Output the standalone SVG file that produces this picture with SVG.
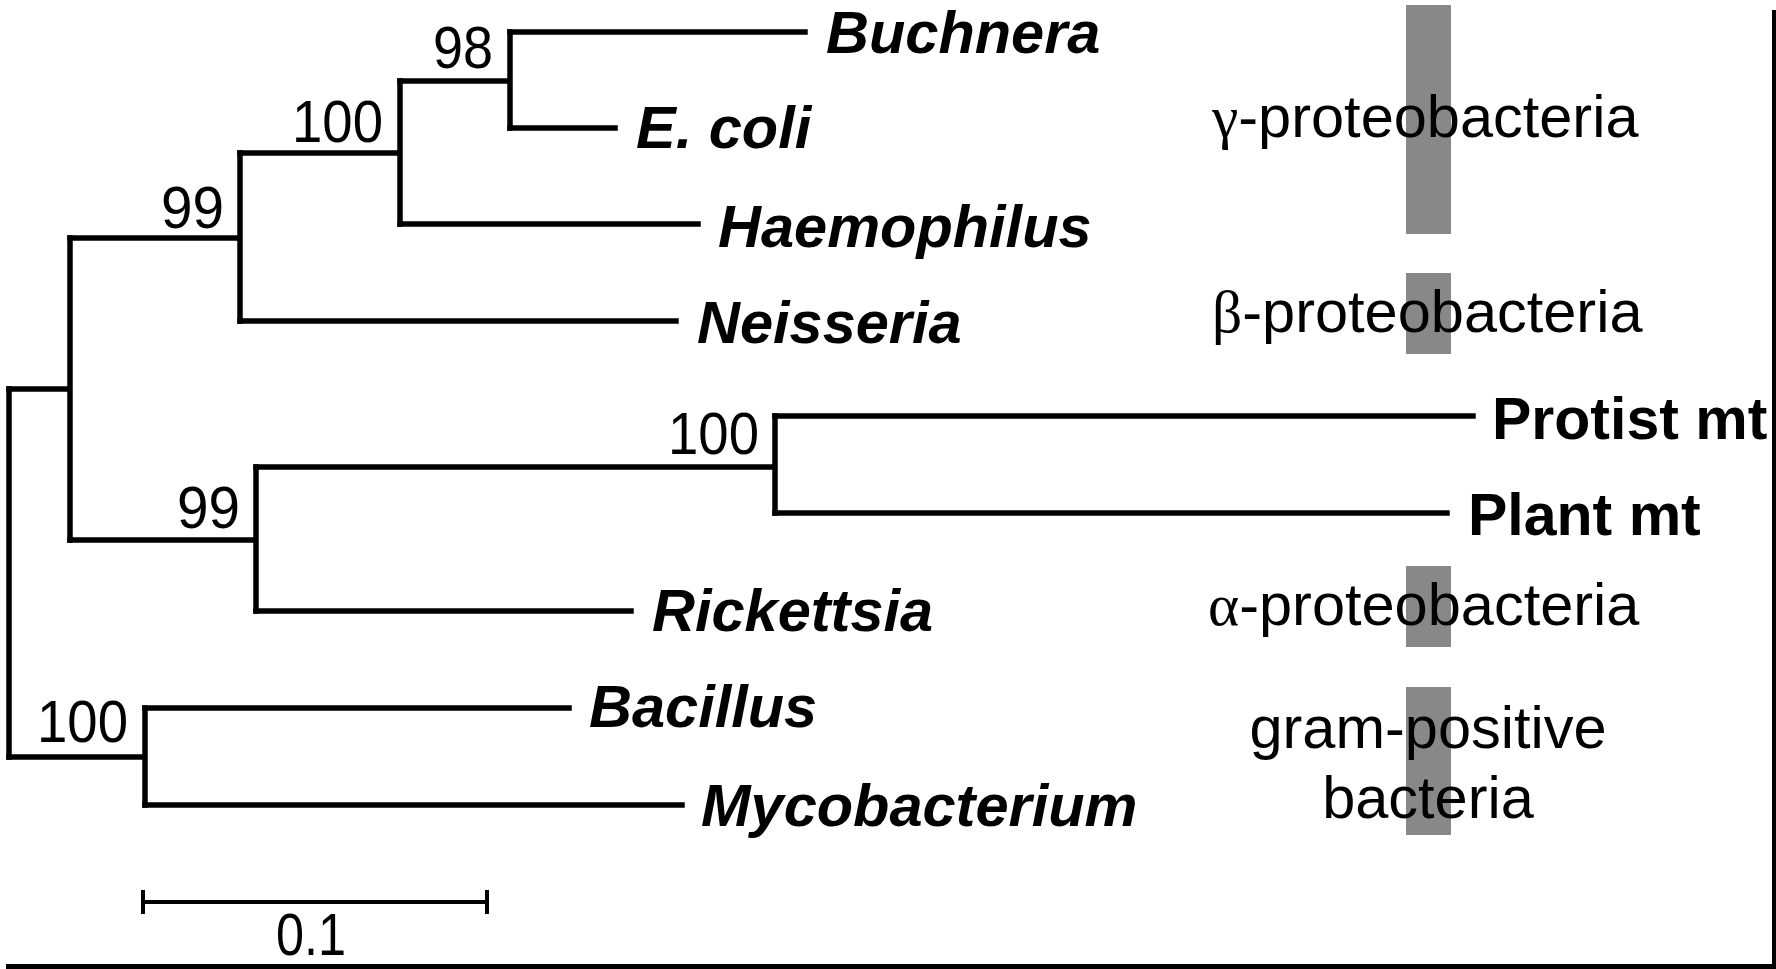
<svg xmlns="http://www.w3.org/2000/svg" width="1776" height="969" viewBox="0 0 1776 969">
<style>
.br{fill:none;stroke:#000;stroke-width:5.5;stroke-linecap:square}
.sb{fill:none;stroke:#000;stroke-width:4}
.leaf{font-family:"Liberation Sans",Arial,sans-serif;font-size:59.5px;font-weight:bold;font-style:italic;fill:#000}
.mt{font-family:"Liberation Sans",Arial,sans-serif;font-size:59px;font-weight:bold;fill:#000}
.num{font-family:"Liberation Sans",Arial,sans-serif;font-size:59px;fill:#000}
.grp{font-family:"Liberation Sans",Arial,sans-serif;font-size:59.5px;fill:#000}
.gk{font-family:"Liberation Serif","Times New Roman",serif}
.bar{fill:#888888}
</style>
<rect width="1776" height="969" fill="#fff"/>
<g id="bars">
<rect class="bar" x="1406" y="5" width="45" height="229"/>
<rect class="bar" x="1406" y="273" width="45" height="81"/>
<rect class="bar" x="1406" y="566" width="45" height="81"/>
<rect class="bar" x="1406" y="687" width="45" height="148"/>
</g>
<g id="connectors">
<path class="br" d="M9,389 V757"/>
<path class="br" d="M9,389 H70 M70,238 V540"/>
<path class="br" d="M70,238 H240 M240,153 V321"/>
<path class="br" d="M240,153 H400 M400,81 V224"/>
<path class="br" d="M400,81 H510 M510,32 V128"/>
<path class="br" d="M510,32 H805"/>
<path class="br" d="M510,128 H615"/>
<path class="br" d="M400,224 H698"/>
<path class="br" d="M240,321 H676"/>
<path class="br" d="M70,540 H256 M256,467 V611"/>
<path class="br" d="M256,467 H775 M775,416 V513"/>
<path class="br" d="M775,416 H1473"/>
<path class="br" d="M775,513 H1447"/>
<path class="br" d="M256,611 H631"/>
<path class="br" d="M9,757 H145 M145,708 V805"/>
<path class="br" d="M145,708 H569"/>
<path class="br" d="M145,805 H682"/>
</g>
<g id="support">
<text class="num" x="433" y="68" textLength="60" lengthAdjust="spacingAndGlyphs">98</text>
<text class="num" x="292" y="142" textLength="91" lengthAdjust="spacingAndGlyphs">100</text>
<text class="num" x="161" y="228" textLength="63" lengthAdjust="spacingAndGlyphs">99</text>
<text class="num" x="668" y="454" textLength="91" lengthAdjust="spacingAndGlyphs">100</text>
<text class="num" x="177" y="528" textLength="63" lengthAdjust="spacingAndGlyphs">99</text>
<text class="num" x="37" y="742" textLength="91" lengthAdjust="spacingAndGlyphs">100</text>
</g>
<g id="node-buchnera"><text class="leaf" x="826" y="53">Buchnera</text></g>
<g id="node-ecoli"><text class="leaf" x="636" y="148">E. coli</text></g>
<g id="node-haemophilus"><text class="leaf" x="718" y="247">Haemophilus</text></g>
<g id="node-neisseria"><text class="leaf" x="697" y="343">Neisseria</text></g>
<g id="node-protist"><text class="mt" x="1492" y="439">Protist mt</text></g>
<g id="node-plant"><text class="mt" x="1468" y="535">Plant mt</text></g>
<g id="node-rickettsia"><text class="leaf" x="652" y="631">Rickettsia</text></g>
<g id="node-bacillus"><text class="leaf" x="589" y="727">Bacillus</text></g>
<g id="node-mycobacterium"><text class="leaf" x="701" y="826">Mycobacterium</text></g>
<g id="groups">
<text class="grp" x="1212" y="137"><tspan class="gk">γ</tspan>-proteobacteria</text>
<text class="grp" x="1212" y="332"><tspan class="gk">β</tspan>-proteobacteria</text>
<text class="grp" x="1208" y="625"><tspan class="gk">α</tspan>-proteobacteria</text>
<text class="grp" x="1428" y="748" text-anchor="middle">gram-positive</text>
<text class="grp" x="1428" y="818" text-anchor="middle">bacteria</text>
</g>
<g id="scalebar">
<path class="sb" d="M143,902 H487 M143,890 V914 M487,890 V914"/>
<text class="num" x="276" y="955" textLength="70" lengthAdjust="spacingAndGlyphs">0.1</text>
</g>
<g id="frame">
<rect x="1772" y="10" width="4" height="959" fill="#000"/>
<rect x="6" y="964" width="1770" height="5" fill="#000"/>
</g>
</svg>
